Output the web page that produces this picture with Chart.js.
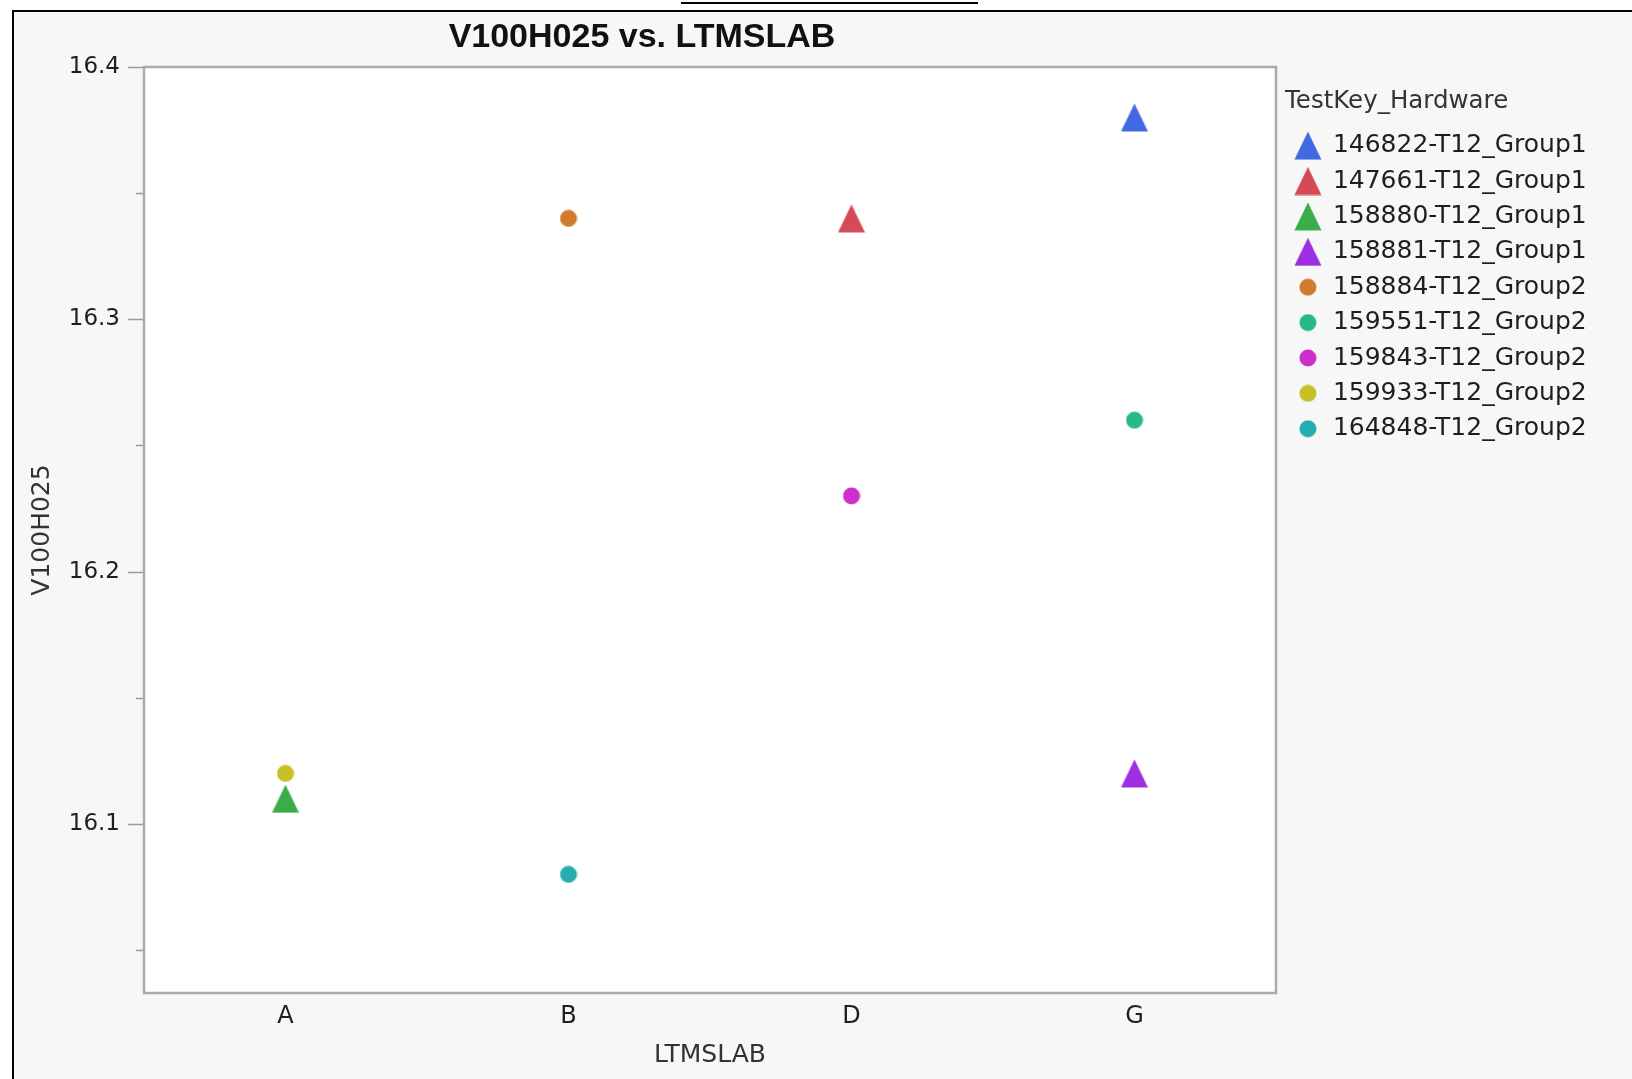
<!DOCTYPE html>
<html>
<head>
<meta charset="utf-8">
<title>V100H025 vs. LTMSLAB</title>
<script src="https://cdn.jsdelivr.net/npm/chart.js"></script>
<style>
  html, body { margin: 0; padding: 0; background: #fff; width: 1632px; height: 1079px; overflow: hidden; }
  #frame { position: absolute; left: 12px; top: 10px; right: 0; bottom: 0;
           border-left: 2px solid #000; border-top: 2px solid #000; background: #f7f7f7; }
  #caption { position: absolute; left: 681px; top: 2px; width: 297px; height: 0; border-top: 2px solid #000; }
  #title { position: absolute; left: 0; top: 16px; width: 1284px; line-height: 40px; text-align: center;
           font: bold 34px "Liberation Sans", Arial, sans-serif; color: #111; }
  #chart { position: absolute; left: 0; top: 0; }
</style>
</head>
<body>
<div id="frame"></div>
<div id="caption"></div>
<canvas id="chart" width="1632" height="1079"></canvas>
<div id="title">V100H025 vs. LTMSLAB</div>
<script>
// data
const categories = ["A", "B", "D", "G"];
const seriesNames = [
  "146822-T12_Group1", "147661-T12_Group1", "158880-T12_Group1", "158881-T12_Group1",
  "158884-T12_Group2", "159551-T12_Group2", "159843-T12_Group2", "159933-T12_Group2",
  "164848-T12_Group2"
];
const seriesCategory = ["G", "D", "A", "G", "B", "G", "D", "A", "B"];
const seriesValue = [16.38, 16.34, 16.11, 16.12, 16.34, 16.26, 16.23, 16.12, 16.08];
const yTicks = [16.05, 16.1, 16.15, 16.2, 16.25, 16.3, 16.35, 16.4];
const yTickLabels = [16.1, 16.2, 16.3, 16.4];

// style
const seriesShape = ["triangle", "triangle", "triangle", "triangle", "circle", "circle", "circle", "circle", "circle"];
const seriesColor = ["#4169e1", "#d64956", "#3aad48", "#9e2ee2", "#d07c2c", "#28b88c", "#cc2fcc", "#c7be28", "#26aeae"];

function makeMarker(shape, color) {
  const c = document.createElement("canvas");
  const g = c.getContext("2d");
  if (shape === "triangle") {
    c.width = 28; c.height = 29;
    g.fillStyle = color;
    g.beginPath();
    g.moveTo(14, 0.5);
    g.lineTo(27.5, 28.5);
    g.lineTo(0.5, 28.5);
    g.closePath();
    g.fill();
  } else {
    c.width = 18; c.height = 18;
    g.fillStyle = color;
    g.beginPath();
    g.arc(9, 9, 8.5, 0, Math.PI * 2);
    g.fill();
  }
  return c;
}

const isLabeled = v => yTickLabels.some(t => Math.abs(t - v) < 1e-6);

// work out legend width so the plot's right edge lands where it should
const legendFont = 25, legendPad = 10.4, gapWidth = 9;
const m = document.createElement("canvas").getContext("2d");
m.font = legendFont + 'px "DejaVu Sans"';
const maxText = Math.max(...seriesNames.map(n => m.measureText(n).width));
const legendWidth = legendPad + legendFont + legendFont / 2 + maxText + 10;
const padRight = 1632 - 1276 - gapWidth - legendWidth;

const plotFrame = {
  id: "plotFrame",
  beforeDraw(chart) {
    const { ctx, chartArea: a } = chart;
    ctx.save();
    ctx.fillStyle = "#ffffff";
    ctx.fillRect(a.left, a.top, a.right - a.left, a.bottom - a.top);
    ctx.restore();
  },
  beforeDatasetsDraw(chart) {
    const { ctx, chartArea: a } = chart;
    const y = chart.scales.y;
    ctx.save();
    ctx.strokeStyle = "#9a9a9a";
    ctx.lineWidth = 1.5;
    ctx.beginPath();
    y.ticks.forEach(t => {
      const py = Math.round(y.getPixelForValue(t.value)) + 0.5;
      ctx.moveTo(a.left - (isLabeled(t.value) ? 16 : 8), py);
      ctx.lineTo(a.left, py);
    });
    ctx.stroke();
    ctx.strokeStyle = "#ababab";
    ctx.lineWidth = 2.5;
    ctx.strokeRect(a.left, a.top, a.right - a.left, a.bottom - a.top);
    ctx.restore();
  }
};

const datasets = seriesNames.map((name, i) => ({
  label: name,
  data: [{ x: seriesCategory[i], y: seriesValue[i] }],
  pointStyle: makeMarker(seriesShape[i], seriesColor[i]),
  backgroundColor: seriesColor[i],
  borderColor: seriesColor[i],
  pointRadius: 5
}));

new Chart(document.getElementById("chart"), {
  type: "scatter",
  data: { labels: categories, datasets: datasets },
  plugins: [plotFrame],
  options: {
    responsive: false,
    animation: false,
    events: [],
    layout: { padding: { left: 14, top: 67, right: padRight, bottom: 0 } },
    plugins: {
      tooltip: { enabled: false },
      title: { display: false },
      legend: {
        position: "right",
        align: "start",
        maxWidth: 700,
        title: {
          display: true,
          text: "TestKey_Hardware",
          position: "start",
          color: "#333",
          font: { family: "DejaVu Sans", size: 24.5 },
          padding: { top: 22.2, bottom: 4.1 }
        },
        labels: {
          usePointStyle: true,
          padding: legendPad,
          color: "#1e1e1e",
          font: { family: "DejaVu Sans", size: legendFont }
        }
      }
    },
    scales: {
      x: {
        type: "category",
        labels: categories,
        offset: true,
        grid: { display: false, drawTicks: false },
        border: { display: false },
        ticks: { padding: 9.6, color: "#1e1e1e", font: { family: "DejaVu Sans", size: 24 } },
        title: {
          display: true,
          text: "LTMSLAB",
          color: "#333",
          font: { family: "DejaVu Sans", size: 25 },
          padding: { top: 0, bottom: 9 }
        },
        afterFit(s) { s.height = 1079 - 993; }
      },
      y: {
        type: "linear",
        position: "left",
        min: 16.033,
        max: 16.4,
        grid: { display: false, drawTicks: false },
        border: { display: false },
        afterBuildTicks(s) { s.ticks = yTicks.map(v => ({ value: v })); },
        ticks: {
          autoSkip: false,
          padding: 24,
          color: "#1e1e1e",
          font: { family: "DejaVu Sans", size: 23 },
          callback: v => isLabeled(v) ? v.toFixed(1) : ""
        },
        title: {
          display: true,
          text: "V100H025",
          color: "#333",
          font: { family: "DejaVu Sans", size: 25 },
          padding: { top: 13, bottom: 0 }
        },
        afterFit(s) { s.width = 144 - 14; }
      },
      gap: {
        type: "linear",
        position: "right",
        display: true,
        grid: { display: false, drawTicks: false },
        border: { display: false },
        ticks: { display: false },
        afterFit(s) { s.width = gapWidth; }
      }
    }
  }
});
</script>
</body>
</html>
